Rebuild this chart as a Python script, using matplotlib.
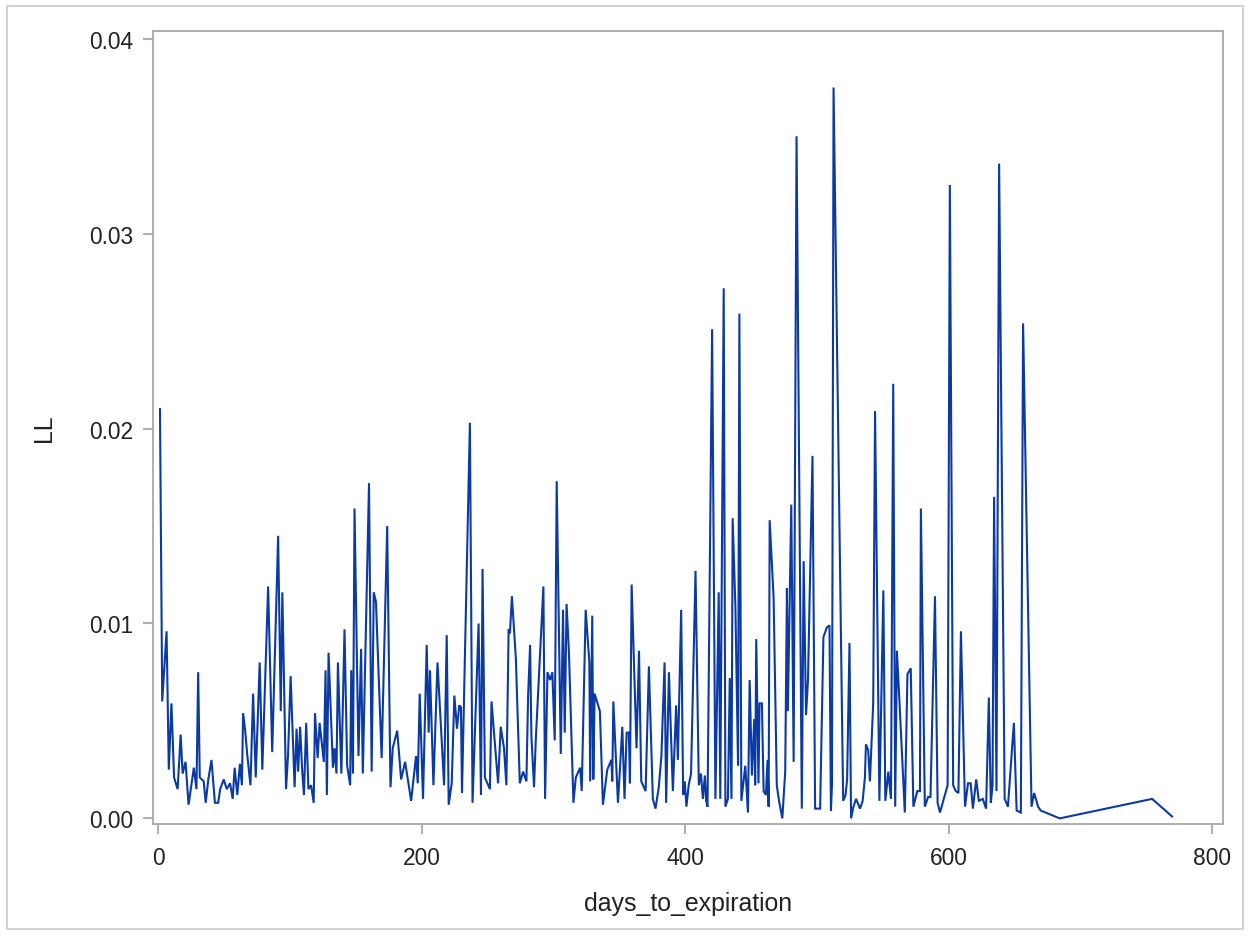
import matplotlib
matplotlib.use("Agg")
import matplotlib.pyplot as plt
from matplotlib.patches import Rectangle

plt.rcParams['font.family'] = ['Liberation Sans', 'DejaVu Sans']

# series: days_to_expiration vs LL
days = [1.3, 3, 6.3, 8, 10, 12, 14.7, 17, 18.5, 20.7, 23, 27, 29, 30.3, 31.5, 34.5, 36, 38, 40.4, 43,
        45.5, 47, 49.7, 52, 54.5, 56.5, 58, 60, 62, 63.5, 64.4, 66, 67.5, 70, 72, 74, 77, 79, 83.4, 86.5,
        91, 93, 94.2, 97, 98.5, 100.5, 103.5, 105, 106.2, 107.7, 109.3, 110.6, 112.3, 114, 116, 118, 119, 121, 122.5, 125.7,
        127, 128, 129.3, 132.6, 133.8, 135.3, 136.4, 139, 141.4, 143.4, 145.7, 146.5, 147.8, 149, 152, 154, 155.3, 160, 162, 163.6,
        165.3, 169.6, 173.8, 176.3, 178, 181.4, 184.4, 187.4, 192, 195.7, 197, 198.5, 201, 203.8, 205.3, 206.3, 208.9, 212, 217, 219,
        220.5, 222.8, 224.8, 226.8, 228.5, 229.8, 230.6, 234.5, 236.6, 238.6, 243.2, 245, 246.2, 248, 251.8, 253, 258, 260, 262.5, 264.3,
        266, 267, 268.5, 271.5, 274.5, 277, 279.5, 280.8, 282.3, 283.3, 285.3, 286.6, 292.4, 293.7, 295.5, 297.5, 299.2, 301, 302.5, 305.6,
        307.3, 308.6, 310, 311.8, 315.2, 317, 320.3, 321.5, 324.5, 327.3, 327.9, 329.5, 330.3, 331.3, 335.3, 337.6, 340.9, 344, 344.7, 345.5,
        349, 350.5, 352.3, 354, 355.6, 357.3, 358.1, 359.4, 363.1, 365, 366.7, 370, 372.5, 375.5, 377.5, 380, 382, 384.4, 385.6, 387.7,
        390.7, 393.2, 394.5, 397, 398.5, 399.7, 401, 402.7, 404.5, 407.9, 410.4, 412, 413.5, 415, 416, 417, 420.5, 423, 425.5, 426.7,
        429.3, 430.6, 432.5, 433.9, 435.2, 436.1, 438.2, 440.2, 441.2, 442.7, 445.7, 447.7, 449, 450.7, 452.5, 453.2, 454, 455.7, 456.5, 458.3,
        459.6, 461.3, 462.6, 463.4, 464.2, 467.2, 469.6, 471.3, 473.8, 476, 477.3, 478, 480.6, 482.4, 484.6, 488.6, 490, 491.8, 493.3, 496.7,
        498.7, 502.5, 505, 507.6, 509.6, 510.7, 511.5, 512.7, 520, 521.8, 523, 524.8, 526, 527.8, 529.8, 532.8, 534.8, 536.5, 537.3, 539,
        540.3, 542.8, 544.2, 547.5, 550.5, 552, 554.3, 556.3, 558, 559.5, 560.8, 562.8, 566.8, 568.8, 571.3, 573.3, 576.3, 578.3, 579, 582,
        584.5, 586.3, 589.7, 591.7, 593.5, 596, 599.3, 601, 603.5, 605.5, 607.5, 609.4, 612.5, 614.8, 616.8, 618.5, 621, 623, 626, 628.5,
        630.6, 632.1, 633.4, 634.6, 636.4, 638.4, 642.6, 645.1, 649.6, 651.7, 654.9, 656.6, 663, 665, 668, 670, 684.4, 754.6, 769.7]

ll = [0.0210, 0.0060, 0.0096, 0.0025, 0.0059, 0.0021, 0.0015, 0.0043, 0.0023, 0.0029, 0.0007, 0.0026, 0.0015, 0.0075, 0.0021, 0.0019, 0.0008, 0.0020, 0.0030, 0.0008,
      0.0008, 0.0015, 0.0020, 0.0015, 0.0018, 0.0010, 0.0026, 0.0012, 0.0028, 0.0017, 0.0054, 0.0045, 0.0033, 0.0017, 0.0064, 0.0021, 0.0080, 0.0025, 0.0119, 0.0034,
      0.0145, 0.0055, 0.0116, 0.0015, 0.0032, 0.0073, 0.0016, 0.0046, 0.0024, 0.0047, 0.0024, 0.0012, 0.0049, 0.0015, 0.0017, 0.0008, 0.0054, 0.0031, 0.0049, 0.0029,
      0.0076, 0.0012, 0.0085, 0.0026, 0.0036, 0.0023, 0.0080, 0.0023, 0.0097, 0.0027, 0.0017, 0.0076, 0.0023, 0.0159, 0.0032, 0.0087, 0.0023, 0.0172, 0.0024, 0.0116,
      0.0111, 0.0031, 0.0150, 0.0016, 0.0036, 0.0045, 0.0020, 0.0029, 0.0009, 0.0032, 0.0018, 0.0064, 0.0010, 0.0089, 0.0044, 0.0076, 0.0017, 0.0080, 0.0017, 0.0094,
      0.0007, 0.0018, 0.0063, 0.0046, 0.0058, 0.0057, 0.0013, 0.0135, 0.0203, 0.0008, 0.0100, 0.0012, 0.0128, 0.0021, 0.0015, 0.0060, 0.0018, 0.0047, 0.0036, 0.0017,
      0.0097, 0.0095, 0.0114, 0.0082, 0.0018, 0.0024, 0.0019, 0.0063, 0.0089, 0.0042, 0.0016, 0.0040, 0.0119, 0.0010, 0.0075, 0.0071, 0.0075, 0.0040, 0.0173, 0.0033,
      0.0107, 0.0044, 0.0110, 0.0085, 0.0008, 0.0021, 0.0026, 0.0014, 0.0107, 0.0080, 0.0019, 0.0104, 0.0020, 0.0064, 0.0055, 0.0007, 0.0025, 0.0030, 0.0019, 0.0060,
      0.0008, 0.0025, 0.0047, 0.0010, 0.0044, 0.0044, 0.0018, 0.0120, 0.0036, 0.0086, 0.0019, 0.0014, 0.0078, 0.0010, 0.0005, 0.0016, 0.0032, 0.0080, 0.0008, 0.0075,
      0.0014, 0.0058, 0.0030, 0.0107, 0.0012, 0.0019, 0.0006, 0.0017, 0.0023, 0.0127, 0.0017, 0.0023, 0.0010, 0.0022, 0.0009, 0.0006, 0.0251, 0.0010, 0.0116, 0.0010,
      0.0272, 0.0006, 0.0010, 0.0072, 0.0010, 0.0154, 0.0108, 0.0027, 0.0259, 0.0009, 0.0027, 0.0003, 0.0071, 0.0022, 0.0051, 0.0017, 0.0092, 0.0018, 0.0059, 0.0059,
      0.0014, 0.0012, 0.0030, 0.0006, 0.0153, 0.0113, 0.0017, 0.0009, 0.0000, 0.0024, 0.0118, 0.0055, 0.0161, 0.0029, 0.0350, 0.0005, 0.0132, 0.0053, 0.0071, 0.0186,
      0.0005, 0.0005, 0.0093, 0.0098, 0.0099, 0.0004, 0.0017, 0.0375, 0.0009, 0.0012, 0.0020, 0.0090, 0.0000, 0.0006, 0.0010, 0.0005, 0.0009, 0.0021, 0.0038, 0.0035,
      0.0019, 0.0059, 0.0209, 0.0009, 0.0117, 0.0009, 0.0024, 0.0010, 0.0223, 0.0006, 0.0086, 0.0059, 0.0003, 0.0074, 0.0077, 0.0006, 0.0014, 0.0014, 0.0159, 0.0006,
      0.0011, 0.0011, 0.0114, 0.0008, 0.0003, 0.0009, 0.0017, 0.0325, 0.0017, 0.0014, 0.0013, 0.0096, 0.0006, 0.0018, 0.0018, 0.0005, 0.0020, 0.0009, 0.0010, 0.0005,
      0.0062, 0.0008, 0.0017, 0.0165, 0.0014, 0.0336, 0.0010, 0.0006, 0.0049, 0.0004, 0.0003, 0.0254, 0.0006, 0.0013, 0.0006, 0.0004, 0.0000, 0.0010, 0.0001]

x_ticks = [0, 200, 400, 600, 800]
y_ticks = [0.00, 0.01, 0.02, 0.03, 0.04]

fig = plt.figure(figsize=(12.5, 9.37), dpi=100)
ax = fig.add_axes([0.1224, 0.1195, 0.978 - 0.1224, 0.9658 - 0.1195])

ax.plot(days, ll, color='#0B3AA4', linewidth=1.5, solid_joinstyle='miter')

ax.set_xlim(-4, 808)
ax.set_ylim(-0.00029, 0.0404)
ax.set_xticks(x_ticks)
ax.set_xticklabels([str(t) for t in x_ticks])
ax.set_yticks(y_ticks)
ax.set_yticklabels([f'{t:.2f}' for t in y_ticks])

for side in ax.spines.values():
    side.set_color('#A8A8A8')
    side.set_linewidth(1.3)

ax.tick_params(axis='both', direction='out', length=7, width=1.5, color='#B0B0B0',
               labelsize=16.4, labelcolor='#222222')
ax.tick_params(axis='y', pad=7)
ax.tick_params(axis='x', pad=9)

ax.set_xlabel('days_to_expiration', fontsize=17.9, color='#222222', labelpad=16)
ax.set_ylabel('LL', fontsize=17.9, color='#222222', labelpad=24)

# light border round the whole graph
fig.patches.append(Rectangle((7 / 1250, 7 / 937), 1236 / 1250, 923 / 937,
                             transform=fig.transFigure, fill=False,
                             edgecolor='#D3D3D3', linewidth=1.5))

fig.savefig('out.png', dpi=100)
